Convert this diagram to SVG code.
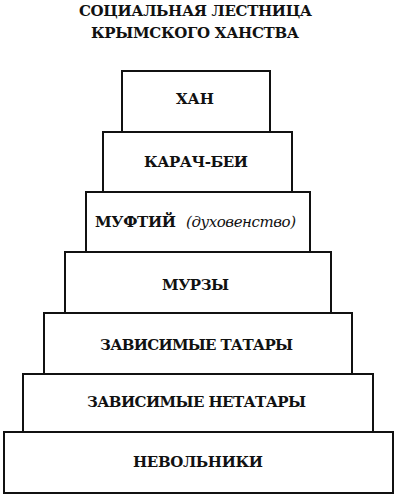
<svg xmlns="http://www.w3.org/2000/svg" width="400" height="499" viewBox="0 0 400 499">
<style>
.box{fill:#fff;stroke:#111;stroke-width:2}
.t{font-family:"DejaVu Serif","Liberation Serif",serif;font-weight:bold;font-size:15px;fill:#111}
.i{font-family:"DejaVu Serif","Liberation Serif",serif;font-style:italic;font-size:15px;fill:#111}
</style>
<rect width="400" height="499" fill="#fff"/>
<g id="title">
<text class="t" x="79" y="16" textLength="233" lengthAdjust="spacing">СОЦИАЛЬНАЯ  ЛЕСТНИЦА</text>
<text class="t" x="91" y="38" textLength="208" lengthAdjust="spacing">КРЫМСКОГО  ХАНСТВА</text>
</g>
<g id="n7"><rect class="box" x="4" y="432" width="389" height="61"/><text class="t" x="133" y="467" textLength="130" lengthAdjust="spacing">НЕВОЛЬНИКИ</text></g>
<g id="n6"><rect class="box" x="23" y="374" width="350" height="58"/><text class="t" x="87" y="407" textLength="219" lengthAdjust="spacing">ЗАВИСИМЫЕ  НЕТАТАРЫ</text></g>
<g id="n5"><rect class="box" x="44" y="313" width="308" height="61"/><text class="t" x="100" y="350" textLength="193" lengthAdjust="spacing">ЗАВИСИМЫЕ  ТАТАРЫ</text></g>
<g id="n4"><rect class="box" x="65" y="252" width="266" height="61"/><text class="t" x="162" y="290" textLength="67" lengthAdjust="spacing">МУРЗЫ</text></g>
<g id="n3"><rect class="box" x="86" y="192" width="224" height="60"/><text class="t" x="95" y="227" textLength="81" lengthAdjust="spacing">МУФТИЙ</text><text class="i" x="186" y="227" textLength="110" lengthAdjust="spacing">(духовенство)</text></g>
<g id="n2"><rect class="box" x="103" y="132" width="189" height="60"/><text class="t" x="144" y="167" textLength="104" lengthAdjust="spacing">КАРАЧ-БЕИ</text></g>
<g id="n1"><rect class="box" x="122" y="71" width="148" height="61"/><text class="t" x="176" y="104" textLength="38" lengthAdjust="spacing">ХАН</text></g>
<g id="connectors"></g>
</svg>
